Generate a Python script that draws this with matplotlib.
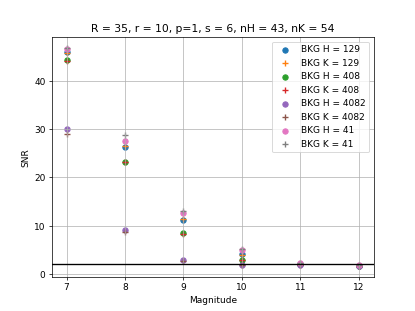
import numpy as np
import matplotlib
matplotlib.use('Agg')
import matplotlib.pyplot as plt

mags = [7, 8, 9, 10, 11, 12]

snr_h129 = [46.0, 26.4, 11.2, 4.1, 2.0, 1.7]
snr_k129 = [45.7, 26.5, 11.3, 4.0, 2.0, 1.7]
snr_h408 = [44.4, 23.2, 8.4, 3.0, 2.0, 1.7]
snr_k408 = [44.1, 23.3, 8.3, 2.9, 1.9, 1.7]
snr_h4082 = [30.1, 9.2, 2.9, 1.9, 1.9, 1.7]
snr_k4082 = [28.9, 8.7, 2.8, 1.8, 1.9, 1.7]
snr_h41 = [46.5, 27.6, 12.7, 5.0, 2.3, 1.8]
snr_k41 = [46.8, 28.7, 13.1, 5.2, 2.3, 1.8]

threshold = 2

fig = plt.figure(figsize=(6.4, 4.8), dpi=64.85)

plt.scatter(mags, snr_h129, label='BKG H = 129')
plt.scatter(mags, snr_k129, marker='+', label='BKG K = 129')
plt.scatter(mags, snr_h408, label='BKG H = 408')
plt.scatter(mags, snr_k408, marker='+', label='BKG K = 408')
plt.scatter(mags, snr_h4082, label='BKG H = 4082')
plt.scatter(mags, snr_k4082, marker='+', label='BKG K = 4082')
plt.scatter(mags, snr_h41, label='BKG H = 41')
plt.scatter(mags, snr_k41, marker='+', label='BKG K = 41')
plt.axhline(threshold, color='k')

plt.grid()
plt.legend(loc='upper right')
plt.title('R = 35, r = 10, p=1, s = 6, nH = 43, nK = 54')
plt.xlabel('Magnitude')
plt.ylabel('SNR')
plt.savefig('out.png')
